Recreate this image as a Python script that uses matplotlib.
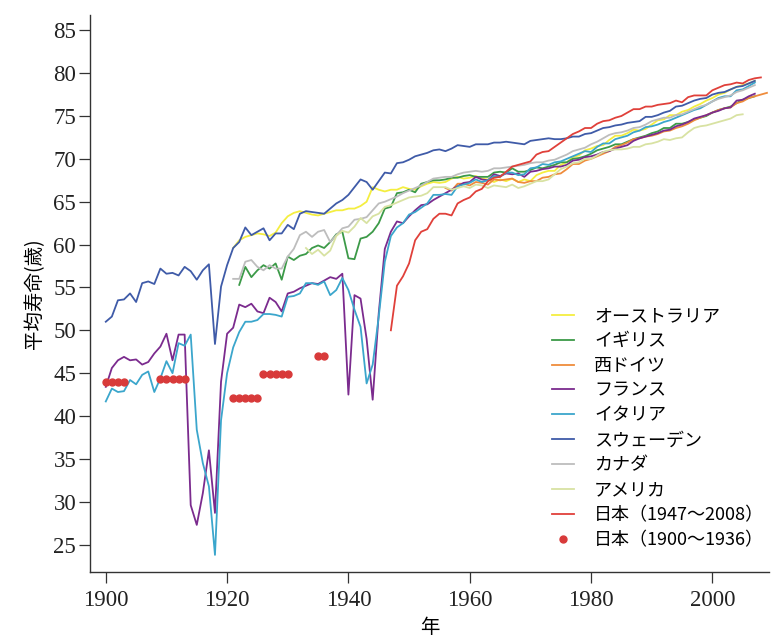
import numpy as np
import matplotlib
matplotlib.use("Agg")
import matplotlib.pyplot as plt

plt.rcParams['font.family'] = ['Noto Sans CJK JP', 'DejaVu Sans']

# male life expectancy
sweden_start = 1900
sweden = [51.0, 51.6, 53.5, 53.6, 54.3, 53.3, 55.5, 55.7, 55.4, 57.2,
          56.6, 56.7, 56.4, 57.4, 56.9, 55.9, 57.0, 57.7, 48.4, 55.1,
          57.6, 59.6, 60.3, 62.0, 61.1, 61.5, 61.9, 60.5, 61.3, 61.3,
          62.3, 61.8, 63.6, 63.9, 63.8, 63.7, 63.6, 64.2, 64.8, 65.2,
          65.8, 66.7, 67.6, 67.3, 66.4, 67.4, 68.4, 68.3, 69.5, 69.6,
          69.9, 70.3, 70.5, 70.7, 71.0, 71.1, 70.9, 71.2, 71.6, 71.5,
          71.4, 71.7, 71.7, 71.7, 71.9, 71.9, 72.0, 71.9, 71.8, 71.7,
          72.1, 72.2, 72.3, 72.4, 72.3, 72.3, 72.4, 72.6, 72.6, 72.9,
          73.0, 73.3, 73.6, 73.7, 73.9, 74.0, 74.2, 74.3, 74.4, 74.9,
          74.9, 75.1, 75.4, 75.6, 76.1, 76.2, 76.5, 76.8, 77.0, 77.1,
          77.5, 77.7, 77.8, 78.1, 78.4, 78.5, 78.8, 79.1]

france_start = 1900
france = [43.4, 45.6, 46.5, 46.9, 46.5, 46.6, 46.0, 46.3, 47.3, 48.1,
          49.6, 46.5, 49.5, 49.5, 29.6, 27.3, 31.0, 36.0, 28.7, 44.0,
          49.6, 50.3, 53.0, 52.7, 53.1, 52.2, 52.0, 53.8, 53.3, 52.2,
          54.3, 54.5, 54.9, 55.2, 55.5, 55.4, 55.8, 56.2, 56.0, 56.6,
          42.5, 54.1, 53.7, 49.0, 41.9, 52.0, 59.5, 61.5, 62.7, 62.5,
          63.3, 64.0, 64.6, 64.7, 65.2, 65.6, 66.0, 66.4, 66.8, 67.2,
          67.3, 67.9, 67.6, 67.5, 68.2, 68.0, 68.3, 68.2, 68.3, 67.9,
          68.5, 68.6, 68.8, 68.9, 69.1, 69.1, 69.3, 69.8, 69.9, 70.2,
          70.3, 70.5, 70.8, 70.9, 71.2, 71.4, 71.6, 72.1, 72.4, 72.6,
          72.8, 73.0, 73.3, 73.4, 73.8, 74.0, 74.3, 74.7, 74.9, 75.1,
          75.4, 75.6, 75.9, 76.0, 76.8, 76.9, 77.3, 77.6]

italy_start = 1900
italy = [41.7, 43.2, 42.8, 42.9, 44.2, 43.7, 44.8, 45.2, 42.8, 44.4,
         46.4, 45.0, 48.5, 48.2, 49.5, 38.4, 34.5, 31.8, 23.8, 39.5,
         45.0, 48.0, 49.8, 51.0, 51.0, 51.2, 51.9, 51.9, 51.8, 51.6,
         53.9, 54.0, 54.3, 55.5, 55.5, 55.3, 55.7, 54.1, 54.7, 56.1,
         54.7, 52.4, 50.4, 43.8, 46.0, 51.6, 58.0, 61.0, 62.0, 62.5,
         63.5, 63.8, 64.3, 64.8, 65.8, 65.8, 65.9, 65.8, 66.8, 67.0,
         67.2, 67.6, 67.3, 67.5, 68.0, 67.9, 68.4, 68.4, 68.1, 68.2,
         68.9, 69.0, 69.4, 69.3, 69.6, 69.7, 70.0, 70.3, 70.6, 70.9,
         70.8, 71.4, 71.8, 71.8, 72.3, 72.5, 72.7, 73.1, 73.3, 73.7,
         73.8, 74.0, 74.3, 74.5, 74.8, 75.1, 75.4, 75.7, 75.9, 76.3,
         76.7, 77.1, 77.3, 77.3, 78.0, 78.1, 78.5, 78.9]

uk_start = 1922
uk = [55.3, 57.4, 56.2, 57.0, 57.6, 57.2, 57.8, 55.9,
      58.6, 58.2, 58.7, 58.9, 59.6, 59.9, 59.6, 60.3, 61.2, 61.5,
      58.4, 58.3, 60.7, 60.9, 61.5, 62.5, 64.2, 64.4, 66.0, 66.1,
      66.4, 66.1, 67.1, 67.3, 67.5, 67.5, 67.6, 67.8, 67.8, 68.0,
      68.1, 67.9, 67.9, 67.9, 68.4, 68.5, 68.4, 68.9, 68.5, 68.5,
      68.7, 69.0, 68.9, 69.1, 69.3, 69.6, 69.6, 70.0, 70.1, 70.3,
      70.6, 71.0, 71.2, 71.4, 71.7, 71.7, 72.0, 72.3, 72.5, 72.7,
      73.0, 73.2, 73.6, 73.6, 74.1, 74.1, 74.3, 74.6, 74.8, 75.0,
      75.4, 75.7, 75.9, 76.1, 76.5, 76.9, 77.1, 77.3]

canada_start = 1921
canada = [56.0, 56.0, 58.0, 58.2, 57.4, 57.0, 57.6, 57.2, 57.2,
          58.6, 59.5, 61.1, 61.5, 60.9, 61.5, 61.7, 60.3, 61.1, 61.9,
          62.1, 62.9, 63.0, 63.2, 64.0, 64.8, 65.0, 65.3, 65.6, 66.0,
          66.3, 66.6, 66.9, 67.3, 67.7, 67.8, 67.9, 67.9, 68.2, 68.4,
          68.5, 68.6, 68.5, 68.6, 68.9, 68.9, 69.0, 69.1, 69.2, 69.3,
          69.5, 69.6, 69.6, 69.8, 69.9, 70.2, 70.5, 70.9, 71.1, 71.3,
          71.7, 72.0, 72.4, 72.8, 73.0, 73.1, 73.3, 73.6, 73.7, 74.0,
          74.4, 74.6, 74.8, 74.8, 75.1, 75.2, 75.5, 75.8, 76.1, 76.3,
          76.7, 77.0, 77.2, 77.4, 77.8, 78.0, 78.3, 78.6]

australia_start = 1921
australia = [59.6, 60.5, 60.9, 61.1, 61.3, 61.2, 61.0, 61.4, 62.5,
             63.3, 63.7, 63.9, 63.7, 63.5, 63.4, 63.6, 63.8, 64.0, 64.0,
             64.2, 64.2, 64.5, 65.0, 66.7, 66.4, 66.2, 66.4, 66.4, 66.7,
             66.5, 66.4, 66.8, 67.1, 67.3, 67.2, 67.3, 67.7, 67.9, 67.7,
             67.8, 68.0, 67.7, 67.6, 67.3, 67.6, 67.4, 67.7, 67.3, 67.6,
             67.4, 68.1, 68.4, 68.6, 68.6, 69.3, 69.6, 70.2, 70.4, 71.0,
             71.2, 71.5, 71.6, 72.2, 72.7, 72.7, 73.0, 73.4, 73.3, 73.5,
             74.0, 74.5, 74.6, 75.1, 75.1, 75.5, 75.7, 76.1, 76.4, 76.8,
             77.1, 77.5, 77.7, 78.1, 78.4, 78.6, 78.8, 79.1]

usa_start = 1933
usa = [59.6, 58.9, 59.4, 58.7, 59.3, 61.0, 61.6,
       61.4, 62.1, 63.1, 62.5, 63.3, 63.6, 64.4, 64.6, 64.9, 65.2,
       65.5, 65.6, 65.7, 66.0, 66.7, 66.7, 66.7, 66.4, 66.6, 66.8,
       66.6, 67.0, 66.9, 66.6, 66.9, 66.8, 66.7, 67.0, 66.6, 66.8,
       67.1, 67.4, 67.4, 67.6, 68.2, 68.8, 69.1, 69.5, 69.6, 70.0,
       70.0, 70.4, 70.8, 71.0, 71.1, 71.1, 71.2, 71.4, 71.4, 71.7,
       71.8, 72.0, 72.3, 72.2, 72.4, 72.5, 73.1, 73.6, 73.8, 73.9,
       74.1, 74.3, 74.5, 74.7, 75.1, 75.2]

wgermany_start = 1956
wgermany = [66.6, 66.3, 67.1, 67.1,
            66.9, 67.3, 67.2, 67.0, 67.6, 67.5, 67.6, 67.7, 67.3, 67.2,
            67.4, 67.4, 67.8, 67.9, 68.2, 68.3, 68.8, 69.4, 69.4, 69.8,
            70.0, 70.3, 70.6, 70.9, 71.4, 71.6, 71.9, 72.3, 72.4, 72.6,
            72.7, 72.9, 73.2, 73.3, 73.6, 73.8, 74.1, 74.5, 74.8, 75.1,
            75.4, 75.7, 75.9, 76.0, 76.5, 76.7, 77.1, 77.3, 77.5, 77.7]

japan_start = 1947
japan = [50.0, 55.2, 56.3,
         57.8, 60.5, 61.5, 61.8, 63.0, 63.6, 63.6, 63.4, 64.8, 65.2,
         65.5, 66.2, 66.5, 67.4, 67.8, 67.9, 68.5, 69.1, 69.3, 69.5,
         69.7, 70.5, 70.8, 70.9, 71.4, 71.9, 72.4, 72.9, 73.2, 73.6,
         73.6, 74.1, 74.4, 74.5, 74.8, 75.0, 75.4, 75.8, 75.8, 76.1,
         76.1, 76.3, 76.4, 76.5, 76.8, 76.6, 77.2, 77.4, 77.4, 77.4,
         78.0, 78.3, 78.6, 78.7, 78.9, 78.8, 79.2, 79.4, 79.5]

# pre-war Japan (period life tables)
japan_old_years = [1900, 1901, 1902, 1903,
                   1909, 1910, 1911, 1912, 1913,
                   1921, 1922, 1923, 1924, 1925,
                   1926, 1927, 1928, 1929, 1930,
                   1935, 1936]
japan_old = [44.0, 44.0, 44.0, 44.0,
             44.3, 44.3, 44.3, 44.3, 44.3,
             42.1, 42.1, 42.1, 42.1, 42.1,
             44.9, 44.9, 44.9, 44.9, 44.9,
             47.0, 47.0]

series = [
    ("オーストラリア", australia_start, australia, "#f4ee40"),
    ("イギリス", uk_start, uk, "#3c9a48"),
    ("西ドイツ", wgermany_start, wgermany, "#ef8c3c"),
    ("フランス", france_start, france, "#7b2b8e"),
    ("イタリア", italy_start, italy, "#3ba6cc"),
    ("スウェーデン", sweden_start, sweden, "#3f5ba8"),
    ("カナダ", canada_start, canada, "#bdbdbd"),
    ("アメリカ", usa_start, usa, "#d8e2a2"),
    ("日本（1947～2008）", japan_start, japan, "#e0403a"),
]

fig = plt.figure(figsize=(7.72, 6.37), dpi=100)
ax = fig.add_axes([0.1166, 0.102, 0.88, 0.874])

for label, start, vals, color in series:
    yrs = np.arange(start, start + len(vals))
    ax.plot(yrs, vals, color=color, lw=1.3, label=label)

ax.plot(japan_old_years, japan_old, linestyle="none", marker="o",
        markersize=5, color="#d83a3a", label="日本（1900～1936）")

ax.set_xlim(1897.4, 2009.4)
ax.set_ylim(21.8, 86.75)
ax.set_xticks(range(1900, 2001, 20))
ax.set_yticks(range(25, 86, 5))

for side in ("top", "right"):
    ax.spines[side].set_visible(False)
for side in ("left", "bottom"):
    ax.spines[side].set_color("#333333")
    ax.spines[side].set_linewidth(1.0)

ax.tick_params(direction="out", length=8, width=0.9, color="#333333", pad=2)
ax.tick_params(axis="x", pad=5)
for t in ax.get_xticklabels() + ax.get_yticklabels():
    t.set_fontfamily("Liberation Serif")
    t.set_fontsize(16.5)
    t.set_color("#222222")

ax.set_xlabel("年", fontsize=14, labelpad=4)
ax.set_ylabel("平均寿命(歳)", fontsize=14, labelpad=6)

leg = ax.legend(loc="upper left", bbox_to_anchor=(0.703, 0.532),
                bbox_transform=fig.transFigure, frameon=False,
                fontsize=13, handlelength=1.25, handletextpad=1.1,
                labelspacing=0.38, borderpad=0)

fig.savefig("out.png", dpi=100)
